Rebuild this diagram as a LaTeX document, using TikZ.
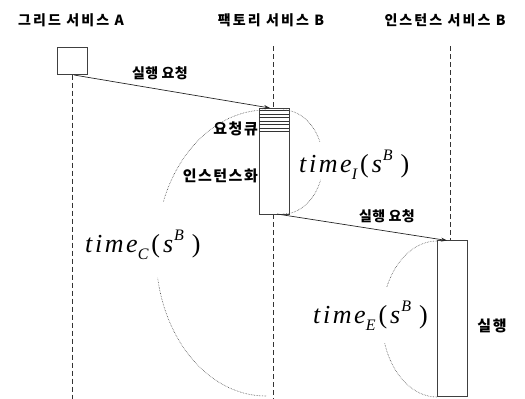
\documentclass[tikz,border=0pt]{standalone}
\usepackage{fontspec}
\newfontfamily\krt{Noto Sans CJK KR}[LetterSpace=15]
\newfontfamily\krl{Noto Sans CJK KR}[LetterSpace=10]
\newfontfamily\krm{Noto Sans CJK KR}[LetterSpace=2]
\newfontfamily\tm{Liberation Serif}[LetterSpace=10]
\usetikzlibrary{arrows.meta}
\tikzset{
  ttl/.style={font=\krt\bfseries\fontsize{14}{15}\selectfont, inner sep=0pt},
  lbl/.style={font=\krl\bfseries\fontsize{15}{16}\selectfont, inner sep=0pt},
  mlbl/.style={font=\krm\bfseries\fontsize{14}{15}\selectfont, inner sep=0pt},
  life/.style={draw=black!80, dash pattern=on 5pt off 3pt, line width=0.6pt},
  actbox/.style={draw=black!75, line width=0.6pt, fill=white},
  msg/.style={draw=black!85, line width=0.7pt, -{Stealth[length=6pt,width=4pt]}},
  arc/.style={draw=black!70, densely dotted, line width=0.6pt},
  tx/.style={font=\tm\itshape\fontsize{26}{27}\selectfont, inner sep=0pt}
}
\newcommand{\tmexpr}[1]{time\raisebox{-7pt}{\fontsize{16}{17}\selectfont #1}\hspace{3pt}{\upshape(}\hspace{3pt}s\hspace{1pt}\raisebox{12pt}{\fontsize{16}{17}\selectfont B}\hspace{8pt}{\upshape)}}
\begin{document}
\begin{tikzpicture}[x=1pt,y=-1pt]
\useasboundingbox (0,0) rectangle (525,399);
% titles
\node[ttl] (tA) at (71,20) {그리드 서비스 A};
\node[ttl] (tF) at (271,20) {팩토리 서비스 B};
\node[ttl] (tI) at (445,20) {인스턴스 서비스 B};
% grid A
\node[actbox, minimum width=30pt, minimum height=27pt, inner sep=0pt] (boxA) at (72,61) {};
\coordinate (lA1) at (72,74.5);
\coordinate (lA2) at (72,399);
\draw[life] (lA1) -- (lA2);
% factory B
\coordinate (lF0) at (273,46);
\coordinate (lF1) at (273,108);
\coordinate (lF2) at (273,214);
\coordinate (lF3) at (273,399);
\draw[life] (lF0) -- (lF1);
\draw[life] (lF2) -- (lF3);
\node[actbox, minimum width=30pt, minimum height=106pt, inner sep=0pt] (boxF) at (274,161) {};
\foreach \yy in {110.5,114,117.5,121,124.5,128,131.5}
  \draw[black!80, line width=0.6pt] (259,\yy) -- (289,\yy);
% instance B
\coordinate (lI0) at (450,46);
\coordinate (lI1) at (450,240);
\draw[life] (lI0) -- (lI1);
\node[actbox, minimum width=30pt, minimum height=156pt, inner sep=0pt] (boxI) at (452,318) {};
% messages
\coordinate (m1s) at (74,75);
\coordinate (m1e) at (270,108);
\draw[msg] (m1s) -- (m1e);
\node[mlbl] (l1) at (160,73) {실행 요청};
\coordinate (m2s) at (277,214);
\coordinate (m2e) at (447,240.5);
\draw[msg] (m2s) -- (m2e);
\node[mlbl] (l2) at (387,216) {실행 요청};
% side labels
\node[lbl, anchor=east] (q) at (258,128.5) {요청큐};
\node[lbl, anchor=east] (inst) at (258,176) {인스턴스화};
\node[lbl] (ex) at (492,326) {실행};
% time_I arc (center 283,162)
\draw[arc] (283,110) arc[start angle=90, end angle=23, x radius=40pt, y radius=52pt];
\draw[arc] (283,214) arc[start angle=-90, end angle=-20, x radius=40pt, y radius=52pt];
% time_C arc (center 266,253)
\draw[arc] (266,110) arc[start angle=90, end angle=159, x radius=110pt, y radius=143pt];
\draw[arc] (266,396) arc[start angle=-90, end angle=-170, x radius=110pt, y radius=143pt];
% time_E arc (center 437,319)
\draw[arc] (437,241) arc[start angle=90, end angle=156, x radius=55pt, y radius=78pt];
\draw[arc] (437,397) arc[start angle=-90, end angle=-162, x radius=55pt, y radius=78pt];
% texts
\node[tx, anchor=base west] (tI) at (299,172) {\tmexpr{I}};
\node[tx, anchor=base west] (tC) at (85,252) {\tmexpr{C}};
\node[tx, anchor=base west] (tE) at (313,323) {\tmexpr{E}};
\end{tikzpicture}
\end{document}
